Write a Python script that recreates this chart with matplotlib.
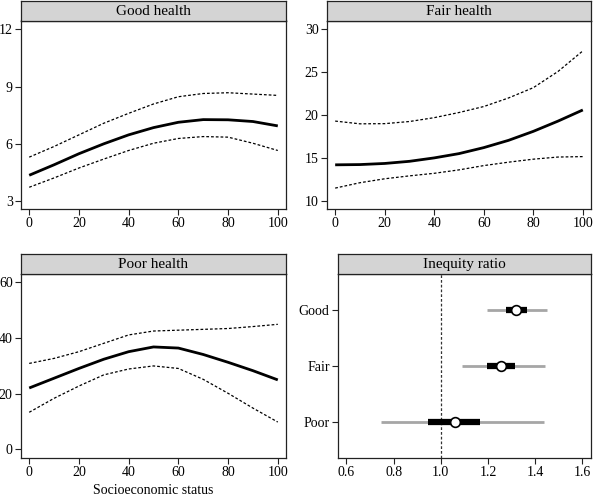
import matplotlib
matplotlib.use("Agg")
import matplotlib.pyplot as plt

plt.rcParams['font.family'] = ['Liberation Serif', 'DejaVu Serif']

ses = [0, 10, 20, 30, 40, 50, 60, 70, 80, 90, 100]

good_mean = [4.35, 4.90, 5.48, 6.00, 6.47, 6.85, 7.13, 7.27, 7.26, 7.17, 6.94]
good_upper = [5.30, 5.86, 6.47, 7.08, 7.60, 8.09, 8.47, 8.64, 8.68, 8.61, 8.54]
good_lower = [3.72, 4.21, 4.73, 5.20, 5.65, 6.03, 6.28, 6.38, 6.35, 6.03, 5.65]

fair_mean = [14.19, 14.22, 14.35, 14.60, 15.00, 15.50, 16.20, 17.05, 18.10, 19.30, 20.60]
fair_upper = [19.30, 18.98, 19.00, 19.25, 19.70, 20.30, 21.00, 22.00, 23.20, 25.10, 27.50]
fair_lower = [11.47, 12.10, 12.56, 12.90, 13.20, 13.60, 14.10, 14.50, 14.85, 15.10, 15.15]

poor_mean = [22.0, 25.5, 29.0, 32.3, 35.0, 36.7, 36.3, 34.0, 31.2, 28.2, 24.9]
poor_upper = [30.8, 32.6, 35.0, 38.0, 41.0, 42.4, 42.7, 43.0, 43.3, 44.0, 44.8]
poor_lower = [13.3, 18.3, 22.7, 26.7, 28.8, 29.9, 29.0, 25.1, 20.1, 14.8, 9.8]

ratio_labels = ["Good", "Fair", "Poor"]
ratio_est = [1.318, 1.255, 1.062]
ratio_lo95 = [1.198, 1.088, 0.746]
ratio_hi95 = [1.452, 1.442, 1.439]
ratio_lo50 = [1.276, 1.194, 0.947]
ratio_hi50 = [1.364, 1.314, 1.166]

W, H = 594, 497
fig = plt.figure(figsize=(W / 100, H / 100), dpi=100)


def px_axes(l, r, t, b):
    return fig.add_axes([l / W, 1 - b / H, (r - l) / W, (b - t) / H])


def strip(l, r, t, b, title):
    s = px_axes(l, r, t, b)
    s.set_facecolor('#d4d4d4')
    s.set_xticks([])
    s.set_yticks([])
    for sp in s.spines.values():
        sp.set_linewidth(0.9)
        sp.set_color('#222222')
    s.text(0.5, 0.45, title, ha='center', va='center', fontsize=11, transform=s.transAxes)


def style(ax):
    for sp in ax.spines.values():
        sp.set_linewidth(0.9)
        sp.set_color('#222222')
    ax.tick_params(direction='out', length=4, width=0.8, labelsize=10, pad=2, color='#222222')


dash = (0, (2.2, 1.6))


def curve_panel(ax, mean, upper, lower, ylim, yticks):
    ax.plot(ses, upper, color='black', lw=0.9, ls=dash)
    ax.plot(ses, lower, color='black', lw=0.9, ls=dash)
    ax.plot(ses, mean, color='black', lw=2.0, solid_capstyle='butt')
    ax.set_xlim(-3.3, 103.3)
    ax.set_ylim(*ylim)
    ax.set_yticks(yticks)
    ax.set_xticks([0, 20, 40, 60, 80, 100])
    style(ax)


# Panel 1
ax1 = px_axes(21, 286, 20.5, 209)
strip(21, 286, 1, 20.5, 'Good health')
curve_panel(ax1, good_mean, good_upper, good_lower, (2.58, 12.47), [3, 6, 9, 12])

# Panel 2
ax2 = px_axes(327, 591, 20.5, 209)
strip(327, 591, 1, 20.5, 'Fair health')
curve_panel(ax2, fair_mean, fair_upper, fair_lower, (9.03, 31.05), [10, 15, 20, 25, 30])

# Panel 3
ax3 = px_axes(21, 286, 273.5, 458)
strip(21, 286, 254, 273.5, 'Poor health')
curve_panel(ax3, poor_mean, poor_upper, poor_lower, (-3.07, 63.0), [0, 20, 40, 60])
ax3.set_xlabel('Socioeconomic status', fontsize=10, labelpad=3)

# Panel 4
ax4 = px_axes(338, 591, 273.5, 458)
strip(338, 591, 254, 273.5, 'Inequity ratio')
ypos = [3, 2, 1]
ax4.axvline(1.0, color='#333333', lw=0.9, ls=(0, (2.2, 1.6)), zorder=1)
ax4.hlines(ypos, ratio_lo95, ratio_hi95, color='#a6a6a6', lw=2.0, zorder=2)
ax4.hlines(ypos, ratio_lo50, ratio_hi50, color='black', lw=4.5, zorder=3)
ax4.plot(ratio_est, ypos, 'o', ms=7, mfc='white', mec='black', mew=1.2, zorder=4, ls='none')
ax4.set_xlim(0.564, 1.637)
ax4.set_ylim(0.35, 3.66)
ax4.set_xticks([0.6, 0.8, 1.0, 1.2, 1.4, 1.6])
ax4.set_xticklabels(['0.6', '0.8', '1.0', '1.2', '1.4', '1.6'])
ax4.set_yticks(ypos)
ax4.set_yticklabels(ratio_labels)
style(ax4)

fig.savefig('out.png', dpi=100)
